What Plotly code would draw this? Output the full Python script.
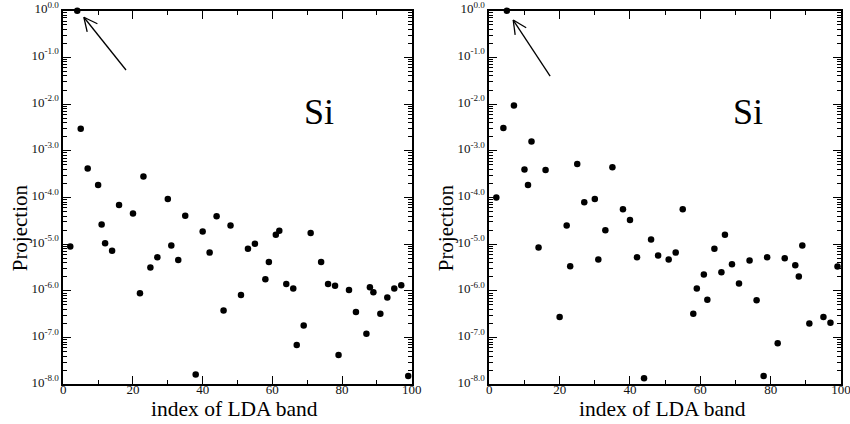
import math
import plotly.graph_objects as go

# ---------------- data ----------------
left_idx = [2, 4, 5, 7, 10, 11, 12, 14, 16, 20, 22, 23, 25, 27, 30, 31, 33, 35, 38, 40,
            42, 44, 46, 48, 51, 53, 55, 58, 59, 61, 62, 64, 66, 67, 69, 71, 74, 76, 78, 79,
            82, 84, 87, 88, 89, 91, 93, 95, 97, 99]
left_log = [-5.05, 0.0, -2.53, -3.38, -3.73, -4.58, -4.98, -5.14, -4.16, -4.34,
            -6.05, -3.55, -5.50, -5.28, -4.03, -5.03, -5.34, -4.39, -7.79, -4.73,
            -5.18, -4.40, -6.42, -4.60, -6.09, -5.10, -4.99, -5.75, -5.38, -4.80,
            -4.71, -5.85, -5.95, -7.16, -6.74, -4.76, -5.38, -5.85, -5.89, -7.37,
            -5.98, -6.45, -6.92, -5.92, -6.03, -6.49, -6.14, -5.95, -5.88, -7.82]

right_idx = [2, 4, 5, 7, 10, 11, 12, 14, 16, 20, 22, 23, 25, 27, 30, 31, 33, 35, 38, 40,
             42, 44, 46, 48, 51, 53, 55, 58, 59, 61, 62, 64, 66, 67, 69, 71, 74, 76, 78, 79,
             82, 84, 87, 88, 89, 91, 95, 97, 99]
right_log = [-4.00, -2.51, 0.0, -2.03, -3.40, -3.73, -2.80, -5.07, -3.41, -6.56,
             -4.60, -5.47, -3.28, -4.10, -4.03, -5.33, -4.70, -3.35, -4.25, -4.48,
             -5.28, -7.87, -4.90, -5.24, -5.33, -5.18, -4.25, -6.49, -5.95, -5.65,
             -6.19, -5.10, -5.60, -4.80, -5.43, -5.84, -5.35, -6.20, -7.82, -5.28,
             -7.12, -5.30, -5.45, -5.69, -5.03, -6.70, -6.56, -6.68, -5.48]

exponents = [0, -1, -2, -3, -4, -5, -6, -7, -8]
ytick_text = ["10<sup>%.1f</sup>" % e if e != 0 else "10<sup>0.0</sup>" for e in exponents]
xtick_vals = [0, 20, 40, 60, 80, 100]
xminor_vals = [10, 30, 50, 70, 90]

panel_label = "Si"
x_title = "index of LDA band"
y_title = "Projection"

# arrow (tail -> tip) in (index, log10 projection)
arrows = [((18.0, -1.27), (5.9, -0.14)), ((17.3, -1.40), (6.8, -0.20))]

# ---------------- figure ----------------
W, H = 850, 424
FONT = "Liberation Serif, Times New Roman, serif"


def px_x(p):
    return p / W


def px_y(p):
    return 1 - p / H


plot_l = [63.3, 489.3]
plot_r = [411.7, 841.0]
plot_t, plot_b = 10.7, 384.3
xdoms = [[px_x(plot_l[i]), px_x(plot_r[i])] for i in range(2)]
ydom = [px_y(plot_b), px_y(plot_t)]

fig = go.Figure()
series = [(left_idx, left_log), (right_idx, right_log)]
for i, (xs, ls) in enumerate(series):
    sfx = "" if i == 0 else str(i + 1)
    fig.add_trace(go.Scatter(
        x=xs, y=[10 ** v for v in ls], mode="markers",
        marker=dict(color="black", size=6.5, symbol="circle"),
        xaxis="x" + sfx, yaxis="y" + sfx, showlegend=False, cliponaxis=False))

minor_y = [k * 10 ** d for d in range(-8, 0) for k in range(2, 10)]
tickfont_y = dict(family=FONT, size=13, color="#111")
tickfont_x = dict(family=FONT, size=13, color="#111")

for i in range(2):
    sfx = "" if i == 0 else str(i + 1)
    osfx = str(i + 3)
    xa = dict(domain=xdoms[i], range=[0, 100], anchor="y" + sfx,
              tickvals=xtick_vals, ticks="inside", ticklen=8, tickwidth=1.3,
              tickcolor="black", showline=True, linecolor="black", linewidth=1.8,
              mirror="ticks", showgrid=False, zeroline=False,
              tickfont=tickfont_x, ticklabeloverflow="allow", ticklabelstandoff=-8,
              minor=dict(tickvals=xminor_vals, ticks="inside", ticklen=4,
                         tickwidth=1.3, tickcolor="black", showgrid=False),
              automargin=False)
    ya = dict(domain=ydom, type="log", range=[-8, 0], anchor="x" + sfx,
              tickvals=[10 ** e for e in exponents], ticktext=ytick_text,
              ticks="inside", ticklen=8, tickwidth=1.3, tickcolor="black",
              showline=True, linecolor="black", linewidth=1.8, mirror="ticks",
              showgrid=False, zeroline=False, tickfont=tickfont_y,
              ticklabeloverflow="allow", ticklabelshift=-2,
              minor=dict(tickvals=minor_y, ticks="inside", ticklen=4, tickwidth=1,
                         tickcolor="black", showgrid=False),
              automargin=False)
    # overlay axes carrying the mirrored minor ticks (top / right)
    xo = dict(domain=xdoms[i], range=[0, 100], anchor="y" + osfx, overlaying="x" + sfx,
              side="top", tickvals=xminor_vals, ticks="inside", ticklen=4,
              tickwidth=1.3, tickcolor="black", showticklabels=False,
              showline=False, showgrid=False, zeroline=False, automargin=False)
    yo = dict(domain=ydom, type="log", range=[-8, 0], anchor="x" + osfx,
              overlaying="y" + sfx, side="right", tickvals=minor_y, ticks="inside",
              ticklen=4, tickwidth=1, tickcolor="black", showticklabels=False,
              showline=False, showgrid=False, zeroline=False, automargin=False)
    fig.update_layout({"xaxis" + sfx: xa, "yaxis" + sfx: ya,
                       "xaxis" + osfx: xo, "yaxis" + osfx: yo})
    fig.add_trace(go.Scatter(x=[None], y=[None], xaxis="x" + osfx, yaxis="y" + osfx,
                             showlegend=False, hoverinfo="skip"))

# arrows with open heads drawn as line segments
PX_X = (plot_r[0] - plot_l[0]) / 100.0
PX_Y = (plot_b - plot_t) / 8.0
for i, ((tx, tl), (hx, hl)) in enumerate(arrows):
    sfx = "" if i == 0 else str(i + 1)
    dx = (tx - hx) * PX_X
    dy = -(tl - hl) * PX_Y
    ang = math.atan2(dy, dx)
    L = 15
    xs, ys = [tx, hx, None], [10 ** tl, 10 ** hl, None]
    for da in (0.45, -0.45):
        bx = hx + L * math.cos(ang + da) / PX_X
        bl = hl - L * math.sin(ang + da) / PX_Y
        xs += [hx, bx, None]
        ys += [10 ** hl, 10 ** bl, None]
    fig.add_trace(go.Scatter(x=xs, y=ys, mode="lines",
                             line=dict(color="black", width=1.3),
                             xaxis="x" + sfx, yaxis="y" + sfx, showlegend=False,
                             hoverinfo="skip", cliponaxis=False))
    fig.add_annotation(x=73.5, y=-2.16, xref="x" + sfx, yref="y" + sfx,
                       text=panel_label, showarrow=False,
                       font=dict(family=FONT, size=36, color="black"))
    # axis titles
    cx = (plot_l[i] + plot_r[i]) / 2
    fig.add_annotation(x=px_x(cx - 3), y=px_y(409), xref="paper", yref="paper",
                       text=x_title, showarrow=False, xanchor="center", yanchor="middle",
                       font=dict(family=FONT, size=21.5, color="black"))
    fig.add_annotation(x=px_x(plot_l[i] - 43), y=px_y(228), xref="paper", yref="paper",
                       text=y_title, showarrow=False, textangle=-90,
                       xanchor="center", yanchor="middle",
                       font=dict(family=FONT, size=21, color="black"))

fig.update_layout(width=W, height=H, margin=dict(l=0, r=0, t=0, b=0),
                  paper_bgcolor="white", plot_bgcolor="white")
fig.write_html("out.html", config={"displayModeBar": False},
               post_script="document.body.style.margin='0';"
                           "document.body.style.overflow='hidden';")
